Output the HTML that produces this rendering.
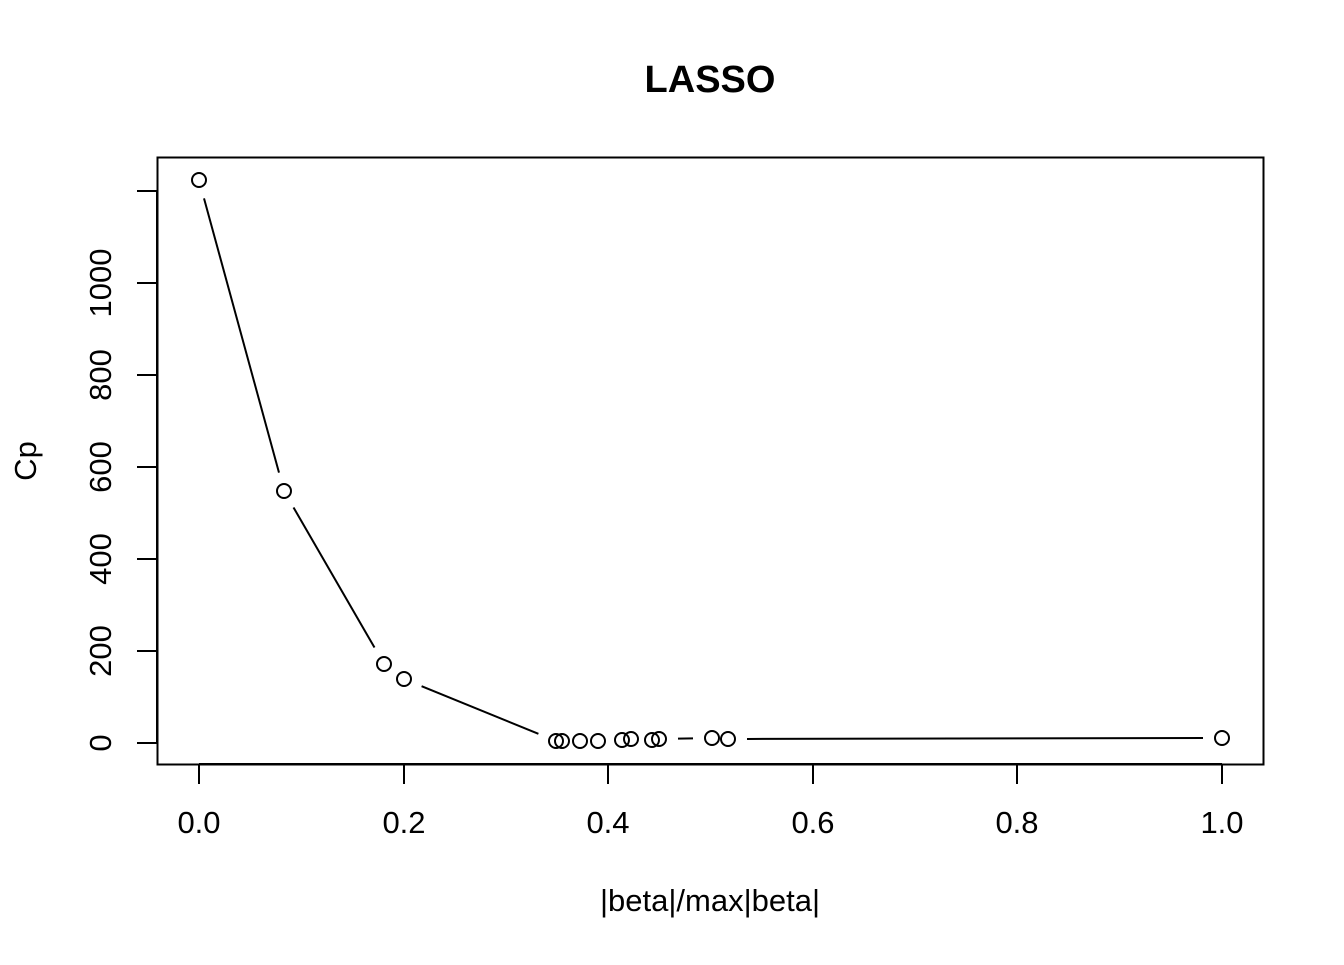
<!DOCTYPE html>
<html><head><meta charset="utf-8"><style>
html,body{margin:0;padding:0;background:#fff;}
svg text{font-family:"Liberation Sans",Arial,sans-serif;fill:#000;}
</style></head><body>
<svg id="s" width="1344" height="960" xmlns="http://www.w3.org/2000/svg">
<rect width="1344" height="960" fill="#fff"/>
<text x="710" y="92" font-size="38" font-weight="bold" text-anchor="middle">LASSO</text>
<rect x="157.5" y="157.5" width="1106" height="607" fill="none" stroke="#000" stroke-width="2"/>
<g stroke="#000" stroke-width="2">
<line x1="199" y1="764" x2="1222" y2="764"/>
<line x1="199" y1="764" x2="199" y2="784"/>
<line x1="404" y1="764" x2="404" y2="784"/>
<line x1="608" y1="764" x2="608" y2="784"/>
<line x1="813" y1="764" x2="813" y2="784"/>
<line x1="1017" y1="764" x2="1017" y2="784"/>
<line x1="1222" y1="764" x2="1222" y2="784"/>
<line x1="157" y1="743" x2="157" y2="191"/>
<line x1="157" y1="743" x2="137" y2="743"/>
<line x1="157" y1="651" x2="137" y2="651"/>
<line x1="157" y1="559" x2="137" y2="559"/>
<line x1="157" y1="467" x2="137" y2="467"/>
<line x1="157" y1="375" x2="137" y2="375"/>
<line x1="157" y1="283" x2="137" y2="283"/>
<line x1="157" y1="191" x2="137" y2="191"/>
</g>
<g font-size="31" text-anchor="middle">
<text x="199" y="833">0.0</text><text x="404" y="833">0.2</text><text x="608" y="833">0.4</text>
<text x="813" y="833">0.6</text><text x="1017" y="833">0.8</text><text x="1222" y="833">1.0</text>
<text x="710" y="911">|beta|/max|beta|</text>
</g>
<g font-size="31" text-anchor="middle">
<text transform="translate(111,743) rotate(-90)">0</text>
<text transform="translate(111,651) rotate(-90)">200</text>
<text transform="translate(111,559) rotate(-90)">400</text>
<text transform="translate(111,467) rotate(-90)">600</text>
<text transform="translate(111,375) rotate(-90)">800</text>
<text transform="translate(111,283) rotate(-90)">1000</text>
<text transform="translate(36,461) rotate(-90)">Cp</text>
</g>
<g id="g" stroke="#000" stroke-width="2" fill="none"></g>
</svg>
<script>
var p=[[199,180],[284,491],[384,664],[404,679],[556,741],[562,741],[580,741],[598,741],[622,740],[631,739],[652,740],[659,739],[712,738],[728,739],[1222,738]];
var g=document.getElementById('g'),h='',gap=19;
for(var i=0;i<p.length-1;i++){var a=p[i],b=p[i+1],dx=b[0]-a[0],dy=b[1]-a[1],d=Math.sqrt(dx*dx+dy*dy);
if(d>2*gap){var ux=dx/d,uy=dy/d;h+='<line x1="'+(a[0]+ux*gap)+'" y1="'+(a[1]+uy*gap)+'" x2="'+(b[0]-ux*gap)+'" y2="'+(b[1]-uy*gap)+'"/>';}}
for(var i=0;i<p.length;i++)h+='<circle cx="'+p[i][0]+'" cy="'+p[i][1]+'" r="7"/>';
g.innerHTML=h;
</script>
</body></html>
